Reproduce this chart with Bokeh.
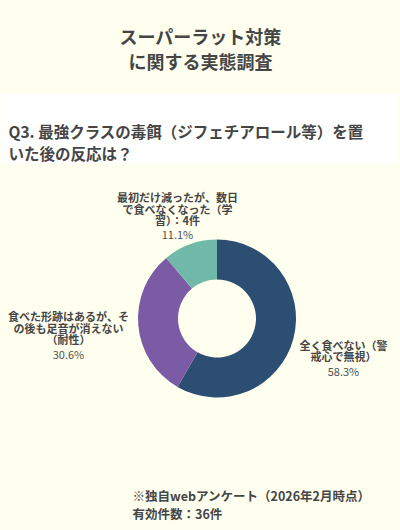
import numpy as np
from bokeh.plotting import figure
from bokeh.models import Range1d
from bokeh.core.properties import value
from bokeh.embed import file_html
from bokeh.resources import INLINE

# ---------------- data ----------------
title_lines = ["スーパーラット対策", "に関する実態調査"]
question_lines = ["Q3. 最強クラスの毒餌（ジフェチアロール等）を置", "いた後の反応は？"]
categories = [
    "全く食べない（警\n戒心で無視）",
    "食べた形跡はあるが、そ\nの後も足音が消えない\n（耐性）",
    "最初だけ減ったが、数日\nで食べなくなった（学\n習）：4件",
]
counts = [21, 11, 4]
percent_labels = ["58.3%", "30.6%", "11.1%"]
colors = ["#2d4e73", "#7b5aa6", "#70b8a8"]
footer_lines = ["※独自webアンケート（2026年2月時点）", "有効件数：36件"]

# ---------------- layout ----------------
BG = "#FFFFF0"
FONT = value("Noto Sans CJK JP")
TXT = "#454545"
W, H = 400, 530


def X(ix):
    return ix


def Y(iy):
    return H - iy


p = figure(width=W, height=H, output_backend="svg", toolbar_location=None,
           x_range=Range1d(0, W), y_range=Range1d(0, H), min_border=0)
p.axis.visible = False
p.grid.visible = False
p.outline_line_color = None
p.background_fill_color = BG
p.border_fill_color = BG

# white band behind the question
p.quad(left=0, right=X(397), top=Y(93), bottom=Y(163), fill_color="white", line_color=None)

# title
for i, t in enumerate(title_lines):
    p.text(x=[X(200)], y=[Y(35 + 25 * i)], text=[t], text_font=FONT, text_font_size="18px",
           text_font_style="bold", text_color=TXT, text_align="center", text_baseline="middle")

# question
for i, t in enumerate(question_lines):
    p.text(x=[X(8)], y=[Y(130 + 22 * i)], text=[t], text_font=FONT, text_font_size="15.5px",
           text_font_style="bold", text_color=TXT, text_align="left", text_baseline="middle")

# donut
vals = np.array(counts, dtype=float)
frac = vals / vals.sum()
cum = np.concatenate([[0], np.cumsum(frac)])
start = np.pi / 2 - 2 * np.pi * cum[:-1]
end = np.pi / 2 - 2 * np.pi * cum[1:]
cx, cy = X(216.5), Y(318)
p.annular_wedge(x=cx, y=cy, inner_radius=39, outer_radius=79,
                inner_radius_units="screen", outer_radius_units="screen",
                start_angle=start, end_angle=end, direction="clock",
                fill_color=colors, line_color=None)

# labels (name lines + percent)
label_pos = [  # (center x, first line y, percent y) in page pixels
    (343, 344, 370),
    (68, 315.5, 353),
    (177, 196.5, 233),
]
for cat, pct, (lx, ly, py) in zip(categories, percent_labels, label_pos):
    for j, line in enumerate(cat.split("\n")):
        p.text(x=[X(lx)], y=[Y(ly + 11.5 * j)], text=[line], text_font=FONT, text_font_size="11px",
               text_font_style="bold", text_color=TXT, text_align="center", text_baseline="middle")
    p.text(x=[X(lx)], y=[Y(py)], text=[pct], text_font=FONT, text_font_size="11px",
           text_color="#505050", text_align="center", text_baseline="middle")

# footer
for i, t in enumerate(footer_lines):
    p.text(x=[X(132)], y=[Y(495 + 18 * i)], text=[t], text_font=FONT, text_font_size="12.5px",
           text_font_style="bold", text_color=TXT, text_align="left", text_baseline="middle")

html = file_html(p, INLINE)
html = html.replace("</head>", "<style>html, body { background: %s; }</style></head>" % BG, 1)
open("out.html", "w").write(html)
